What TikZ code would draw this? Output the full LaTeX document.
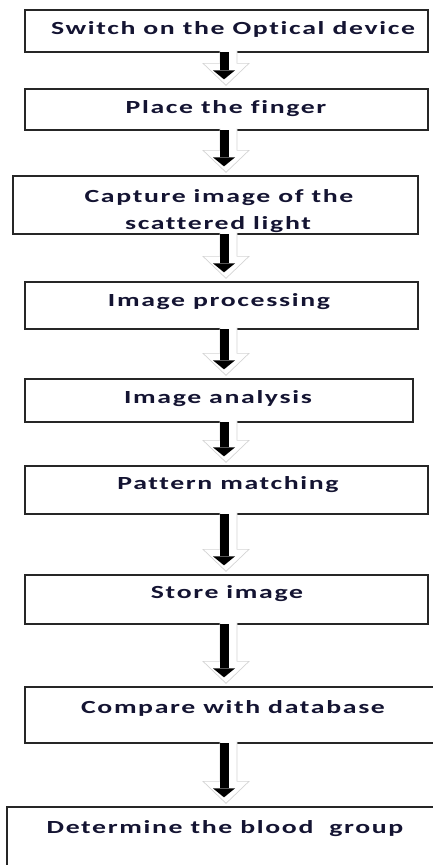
\documentclass[tikz,border=0pt]{standalone}
\usepackage{fontspec}
\setmainfont{Carlito}
\newfontfamily\lblfont[LetterSpace=6,Ligatures=NoCommon]{Carlito}
\usetikzlibrary{calc}
\definecolor{txt}{RGB}{20,20,50}
\definecolor{ashade}{RGB}{212,212,212}
\newcommand\lbltext[1]{\scalebox{1.5}[1]{#1}}
\newcommand\flowarr[3]{%
  \coordinate (#3s) at (#1.south -| ax);
  \coordinate (#3t) at (#2.north -| ax);
  \filldraw[fill=white, draw=ashade, line width=0.7pt]
    ($(#3s)+(-7,-2)$) -- ($(#3t)+(-7,-25)$) -- ($(#3t)+(-24,-25)$) -- ($(#3t)+(-1,-3)$)
    -- ($(#3t)+(22,-25)$) -- ($(#3t)+(10,-25)$) -- ($(#3s)+(10,-2)$);
  \fill[black] ($(#3s)+(-7,-1)$) rectangle ($(#3t)+(2,-18)$);
  \fill[black] ($(#3t)+(-14,-18)$) -- ($(#3t)+(8,-18)$) -- ($(#3t)+(-3,-9)$) -- cycle;
}
\begin{document}
\begin{tikzpicture}[x=1pt,y=-1pt,
  box/.style={draw=black!85, line width=1.3pt, inner sep=0pt, rectangle, fill=white},
  lbl/.style={anchor=base, inner sep=0pt, text=txt, font=\lblfont\fontsize{18.5}{21}\selectfont\bfseries}]
\useasboundingbox (0,0) rectangle (433,865);
\clip (0,0) rectangle (433,865);
\coordinate (ax) at (227,0);
% boxes
\node[box, minimum width=403pt, minimum height=42pt] (b1) at (226.5,31) {};
\node[box, minimum width=403pt, minimum height=41pt] (b2) at (226.5,109.5) {};
\node[box, minimum width=405pt, minimum height=58pt] (b3) at (215.5,205) {};
\node[box, minimum width=393pt, minimum height=47pt] (b4) at (221.5,305.5) {};
\node[box, minimum width=388pt, minimum height=43pt] (b5) at (219,400.5) {};
\node[box, minimum width=403pt, minimum height=48pt] (b6) at (226.5,490) {};
\node[box, minimum width=403pt, minimum height=49pt] (b7) at (226.5,599.5) {};
\node[box, minimum width=420pt, minimum height=56pt] (b8) at (235,715) {};
\node[box, minimum width=438pt, minimum height=78pt] (b9) at (226,846) {};
% labels
\node[lbl] (t1) at (233,34) {\lbltext{Switch on the Optical device}};
\node[lbl] (t2) at (226,113) {\lbltext{Place the finger}};
\node[lbl] (t3a) at (219,202) {\lbltext{Capture image of the}};
\node[lbl] (t3b) at (218,229) {\lbltext{scattered light}};
\node[lbl] (t4) at (219,306) {\lbltext{Image processing}};
\node[lbl] (t5) at (218,403) {\lbltext{Image analysis}};
\node[lbl] (t6) at (228,489) {\lbltext{Pattern matching}};
\node[lbl] (t7) at (227,598) {\lbltext{Store image}};
\node[lbl] (t8) at (233,713) {\lbltext{Compare with database}};
\node[lbl] (t9) at (225,833) {\lbltext{Determine the blood\ \ group}};
% arrows
\flowarr{b1}{b2}{a1}
\flowarr{b2}{b3}{a2}
\flowarr{b3}{b4}{a3}
\flowarr{b4}{b5}{a4}
\flowarr{b5}{b6}{a5}
\flowarr{b6}{b7}{a6}
\flowarr{b7}{b8}{a7}
\flowarr{b8}{b9}{a8}
\end{tikzpicture}
\end{document}
